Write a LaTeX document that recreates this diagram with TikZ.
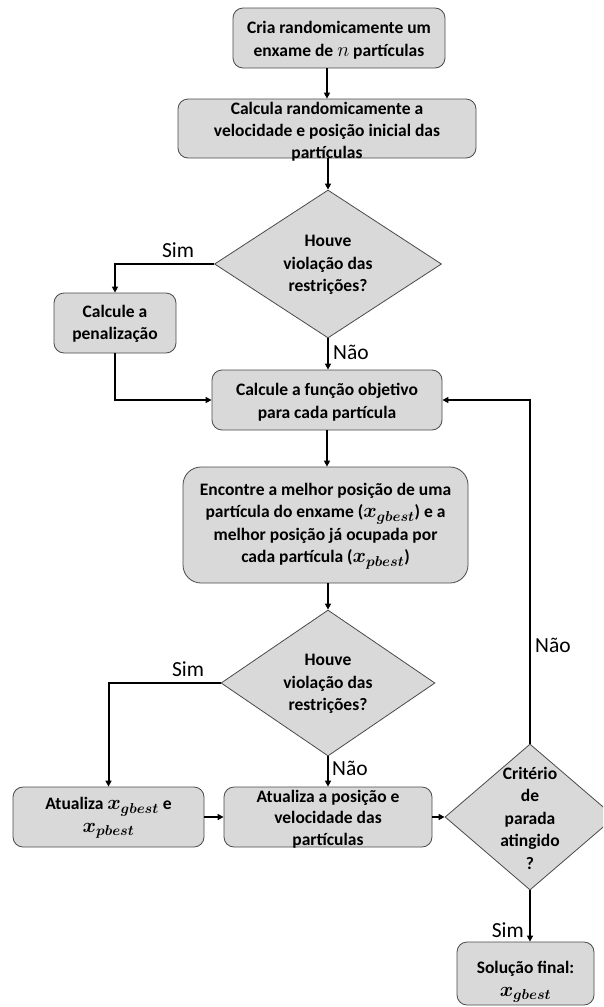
\RequirePackage{fix-cm}
\documentclass[tikz,border=0pt]{standalone}
\usepackage{amsmath}
\usepackage{bm}
\usepackage{fontspec}
\setmainfont{Carlito}
\usetikzlibrary{shapes.geometric,arrows.meta}
\definecolor{boxgray}{HTML}{D9D9D9}
\definecolor{edgegray}{HTML}{4A4A4A}
\tikzset{
  boxnode/.style={draw=edgegray, fill=boxgray, line width=0.8pt, rounded corners=10pt, inner sep=0pt},
  dianode/.style={diamond, draw=edgegray, fill=boxgray, line width=0.8pt, inner sep=0pt},
  txt/.style={font=\bfseries\fontsize{17.5}{22.5}\selectfont, align=center, inner sep=0pt},
  lbl/.style={font=\fontsize{21.5}{24}\selectfont, inner sep=0pt},
  arr/.style={line width=2pt, -{Triangle[length=6pt,width=6pt]}},
  ln/.style={line width=2pt}
}
\newcommand{\xg}{{\fontsize{20.5}{22.5}\selectfont$\bm{x}_{\bm{gbest}}$}}
\newcommand{\xp}{{\fontsize{20.5}{22.5}\selectfont$\bm{x}_{\bm{pbest}}$}}
\newcommand{\nvar}{{\fontsize{20.5}{22.5}\selectfont$n$}}
\begin{document}
\begin{tikzpicture}[x=1pt,y=-1pt]
\clip (0,0) rectangle (603,1007);
% shapes
\node[boxnode, minimum width=212pt, minimum height=60pt] (b1) at (339,38) {};
\node[boxnode, minimum width=298pt, minimum height=59pt] (b2) at (327,128.5) {};
\node[dianode, minimum width=227pt, minimum height=148pt] (d1) at (328,264) {};
\node[boxnode, minimum width=122pt, minimum height=60pt] (pen) at (115,323) {};
\node[boxnode, minimum width=230pt, minimum height=60pt] (b3) at (327,400) {};
\node[boxnode, rounded corners=18pt, minimum width=285pt, minimum height=116pt] (b4) at (325.5,525) {};
\node[dianode, minimum width=214pt, minimum height=146pt] (d2) at (328,683) {};
\node[boxnode, minimum width=191pt, minimum height=60pt] (ug) at (108.5,817) {};
\node[boxnode, minimum width=208pt, minimum height=60pt] (up) at (328,817) {};
\node[dianode, minimum width=170pt, minimum height=146pt] (cr) at (530,817) {};
\node[boxnode, minimum width=137pt, minimum height=63pt] (fin) at (525.5,973.5) {};
% texts
\node[txt] (t1) at (339,40) {Cria randomicamente um\\enxame de \nvar\ partículas};
\node[txt, font=\bfseries\fontsize{17.5}{22}\selectfont] (t2) at (327,132) {Calcula randomicamente a\\velocidade e posição inicial das\\partículas};
\node[txt] (td1) at (328,265) {Houve\\violação das\\restrições?};
\node[txt] (tpen) at (115,324) {Calcule a\\penalização};
\node[txt] (t3) at (327,402) {Calcule a função objetivo\\para cada partícula};
\node[txt] (t4) at (325.5,526) {Encontre a melhor posição de uma\\partícula do enxame (\xg) e a\\melhor posição já ocupada por\\cada partícula (\xp)};
\node[txt] (td2) at (328,684) {Houve\\violação das\\restrições?};
\node[txt] (tug) at (108.5,818) {Atualiza \xg\ e\\\xp};
\node[txt, font=\bfseries\fontsize{17.5}{21.5}\selectfont] (tup) at (328,819) {Atualiza a posição e\\velocidade das\\partículas};
\node[txt] (tcr) at (530,818) {Critério\\de\\parada\\atingido\\?};
\node[txt] (tfin) at (525.5,982) {Solução final:\\\xg};
% connectors
\draw[arr] (b1.south -| b2.north) -- (b2.north);
\draw[arr] (b2.south -| d1.north) -- (d1.north);
\draw[arr] (d1.west) -| (pen.north);
\draw[arr] (pen.south) |- (b3.west);
\draw[arr] (d1.south) -- (d1.south |- b3.north);
\draw[arr] (b3.south) -- (b3.south |- b4.north);
\draw[arr] (b4.south -| d2.north) -- (d2.north);
\draw[arr] (d2.west) -| (ug.north);
\draw[arr] (d2.south) -- (up.north);
\draw[arr] (ug.east) -- (up.west);
\draw[arr] (up.east) -- (cr.west);
\draw[arr] (cr.south) -- (cr.south |- fin.north);
\draw[arr] (cr.north) |- (b3.east);
% labels
\node[lbl] (s1) at (178,250) {Sim};
\node[lbl, anchor=west] (n1) at (333,352) {Não};
\node[lbl] (s2) at (188,669) {Sim};
\node[lbl, anchor=west] (n2) at (332,768) {Não};
\node[lbl, anchor=west] (n3) at (535,645) {Não};
\node[lbl, anchor=east] (s3) at (524,930) {Sim};
\end{tikzpicture}
\end{document}
